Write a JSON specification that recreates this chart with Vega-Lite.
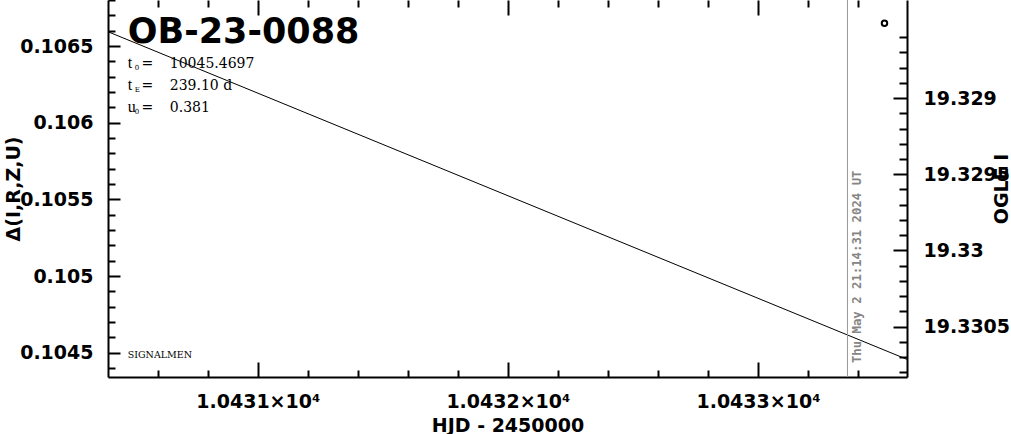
{
  "$schema": "https://vega.github.io/schema/vega-lite/v6.json",
  "width": 799,
  "height": 377,
  "autosize": "none",
  "padding": {"left": 108, "top": 0, "right": 104, "bottom": 57},
  "background": "white",
  "config": {
    "view": {"stroke": null},
    "axis": {
      "grid": false,
      "domainColor": "black",
      "domainWidth": 2,
      "tickColor": "black",
      "tickWidth": 2,
      "labelFont": "DejaVu Sans",
      "labelFontWeight": "bold",
      "labelFontSize": 19,
      "labelColor": "black",
      "labelOverlap": false,
      "labelFlush": false,
      "titleFont": "DejaVu Sans",
      "titleFontWeight": "bold",
      "titleFontSize": 19,
      "titleColor": "black"
    },
    "axisLeft": {
      "tickSize": {"condition": {"test": "abs(datum.value * 2000 - round(datum.value * 2000)) < 0.01", "value": -12}, "value": -7},
      "labelPadding": 27,
      "labelExpr": "abs(datum.value * 2000 - round(datum.value * 2000)) < 0.01 ? '' + round(datum.value * 10000) / 10000 : ''",
      "titlePadding": -4
    }
  },
  "datasets": {
    "model": [
      {"hjd": 10430.401, "delta": 0.106594},
      {"hjd": 10433.596, "delta": 0.104456}
    ],
    "now": [
      {"hjd": 10433.358, "label": "Thu May  2 21:14:31 2024 UT"}
    ],
    "ogle": [
      {"hjd": 10433.506, "mag": 19.32851}
    ],
    "event": [
      {"name": "OB-23-0088"}
    ],
    "note": [
      {"note": "SIGNALMEN"}
    ],
    "fit": [
      {"sym": ["t", "t", "u"], "sub": ["0", "E", "0"], "eq": ["=", "=", "="], "val": ["10045.4697", "239.10 d", "0.381"]}
    ]
  },
  "layer": [
    {
      "layer": [
        {
          "data": {"name": "model"},
          "mark": {"type": "line", "color": "black", "strokeWidth": 1, "clip": true},
          "encoding": {
            "x": {
              "field": "hjd",
              "type": "quantitative",
              "scale": {"domain": [10430.401, 10433.596], "nice": false, "zero": false},
              "axis": {
                "orient": "bottom",
                "values": [10430.6, 10430.8, 10431, 10431.2, 10431.4, 10431.6, 10431.8, 10432, 10432.2, 10432.4, 10432.6, 10432.8, 10433, 10433.2, 10433.4],
                "tickSize": {"condition": {"test": "abs(datum.value - round(datum.value)) < 0.01", "value": -15}, "value": -7},
                "labelPadding": 30,
                "labelExpr": "abs(datum.value - round(datum.value)) < 0.01 ? format(datum.value / 10000, '.4f') + '×10⁴' : ''",
                "title": "HJD - 2450000",
                "titlePadding": -3
              }
            },
            "y": {
              "field": "delta",
              "type": "quantitative",
              "scale": {"domain": [0.104341, 0.106801], "nice": false, "zero": false},
              "axis": {"orient": "left", "title": "Δ(I,R,Z,U)", "values": [0.1044, 0.1045, 0.1046, 0.1047, 0.1048, 0.1049, 0.105, 0.1051, 0.1052, 0.1053, 0.1054, 0.1055, 0.1056, 0.1057, 0.1058, 0.1059, 0.106, 0.1061, 0.1062, 0.1063, 0.1064, 0.1065, 0.1066, 0.1067, 0.1068]}
            }
          }
        },
        {
          "data": {"name": "now"},
          "mark": {"type": "rule", "color": "#999999", "strokeWidth": 1},
          "encoding": {"x": {"field": "hjd", "type": "quantitative"}}
        },
        {
          "data": {"name": "now"},
          "mark": {"type": "text", "angle": 270, "align": "left", "baseline": "alphabetic", "dy": 13.5, "font": "DejaVu Sans Mono", "fontWeight": "bold", "fontSize": 12.3, "color": "#858585"},
          "encoding": {
            "text": {"field": "label", "type": "nominal"},
            "x": {"field": "hjd", "type": "quantitative"},
            "y": {"datum": 0.104432, "type": "quantitative", "axis": {"orient": "left", "title": "Δ(I,R,Z,U)", "values": [0.1044, 0.1045, 0.1046, 0.1047, 0.1048, 0.1049, 0.105, 0.1051, 0.1052, 0.1053, 0.1054, 0.1055, 0.1056, 0.1057, 0.1058, 0.1059, 0.106, 0.1061, 0.1062, 0.1063, 0.1064, 0.1065, 0.1066, 0.1067, 0.1068]}}
          }
        },
        {
          "data": {"name": "event"},
          "mark": {"type": "text", "align": "left", "baseline": "alphabetic", "font": "DejaVu Sans", "fontWeight": "bold", "fontSize": 35, "color": "black"},
          "encoding": {
            "text": {"field": "name", "type": "nominal"},
            "x": {"datum": 10430.48, "type": "quantitative"},
            "y": {"datum": 0.106518, "type": "quantitative", "axis": {"orient": "left", "title": "Δ(I,R,Z,U)", "values": [0.1044, 0.1045, 0.1046, 0.1047, 0.1048, 0.1049, 0.105, 0.1051, 0.1052, 0.1053, 0.1054, 0.1055, 0.1056, 0.1057, 0.1058, 0.1059, 0.106, 0.1061, 0.1062, 0.1063, 0.1064, 0.1065, 0.1066, 0.1067, 0.1068]}}
          }
        },
        {
          "data": {"name": "note"},
          "mark": {"type": "text", "align": "left", "baseline": "alphabetic", "font": "DejaVu Serif", "fontSize": 9.5, "color": "black"},
          "encoding": {
            "text": {"field": "note", "type": "nominal"},
            "x": {"datum": 10430.48, "type": "quantitative"},
            "y": {"datum": 0.104463, "type": "quantitative", "axis": {"orient": "left", "title": "Δ(I,R,Z,U)", "values": [0.1044, 0.1045, 0.1046, 0.1047, 0.1048, 0.1049, 0.105, 0.1051, 0.1052, 0.1053, 0.1054, 0.1055, 0.1056, 0.1057, 0.1058, 0.1059, 0.106, 0.1061, 0.1062, 0.1063, 0.1064, 0.1065, 0.1066, 0.1067, 0.1068]}}
          }
        },
        {
          "data": {"name": "fit"},
          "mark": {"type": "text", "align": "left", "baseline": "alphabetic", "font": "Liberation Serif", "fontSize": 16, "lineHeight": 22, "color": "black"},
          "encoding": {
            "text": {"field": "sym", "type": "nominal"},
            "x": {"datum": 10430.48, "type": "quantitative"},
            "y": {"datum": 0.106357, "type": "quantitative", "axis": {"orient": "left", "title": "Δ(I,R,Z,U)", "values": [0.1044, 0.1045, 0.1046, 0.1047, 0.1048, 0.1049, 0.105, 0.1051, 0.1052, 0.1053, 0.1054, 0.1055, 0.1056, 0.1057, 0.1058, 0.1059, 0.106, 0.1061, 0.1062, 0.1063, 0.1064, 0.1065, 0.1066, 0.1067, 0.1068]}}
          }
        },
        {
          "data": {"name": "fit"},
          "mark": {"type": "text", "align": "left", "baseline": "alphabetic", "dy": 2, "font": "DejaVu Serif", "fontSize": 7, "lineHeight": 22, "color": "black"},
          "encoding": {
            "text": {"field": "sub", "type": "nominal"},
            "x": {"datum": 10430.508, "type": "quantitative"},
            "y": {"datum": 0.106357, "type": "quantitative", "axis": {"orient": "left", "title": "Δ(I,R,Z,U)", "values": [0.1044, 0.1045, 0.1046, 0.1047, 0.1048, 0.1049, 0.105, 0.1051, 0.1052, 0.1053, 0.1054, 0.1055, 0.1056, 0.1057, 0.1058, 0.1059, 0.106, 0.1061, 0.1062, 0.1063, 0.1064, 0.1065, 0.1066, 0.1067, 0.1068]}}
          }
        },
        {
          "data": {"name": "fit"},
          "mark": {"type": "text", "align": "left", "baseline": "alphabetic", "font": "DejaVu Serif", "fontSize": 14, "lineHeight": 22, "color": "black"},
          "encoding": {
            "text": {"field": "eq", "type": "nominal"},
            "x": {"datum": 10430.535, "type": "quantitative"},
            "y": {"datum": 0.106357, "type": "quantitative", "axis": {"orient": "left", "title": "Δ(I,R,Z,U)", "values": [0.1044, 0.1045, 0.1046, 0.1047, 0.1048, 0.1049, 0.105, 0.1051, 0.1052, 0.1053, 0.1054, 0.1055, 0.1056, 0.1057, 0.1058, 0.1059, 0.106, 0.1061, 0.1062, 0.1063, 0.1064, 0.1065, 0.1066, 0.1067, 0.1068]}}
          }
        },
        {
          "data": {"name": "fit"},
          "mark": {"type": "text", "align": "left", "baseline": "alphabetic", "font": "DejaVu Serif", "fontSize": 14, "lineHeight": 22, "color": "black"},
          "encoding": {
            "text": {"field": "val", "type": "nominal"},
            "x": {"datum": 10430.648, "type": "quantitative"},
            "y": {"datum": 0.106357, "type": "quantitative", "axis": {"orient": "left", "title": "Δ(I,R,Z,U)", "values": [0.1044, 0.1045, 0.1046, 0.1047, 0.1048, 0.1049, 0.105, 0.1051, 0.1052, 0.1053, 0.1054, 0.1055, 0.1056, 0.1057, 0.1058, 0.1059, 0.106, 0.1061, 0.1062, 0.1063, 0.1064, 0.1065, 0.1066, 0.1067, 0.1068]}}
          }
        }
      ]
    },
    {
      "data": {"name": "ogle"},
      "mark": {"type": "point", "shape": "circle", "filled": false, "stroke": "black", "strokeWidth": 2, "size": 30, "opacity": 1},
      "encoding": {
        "x": {
          "field": "hjd",
          "type": "quantitative",
          "scale": {"domain": [10430.401, 10433.596], "nice": false, "zero": false},
          "axis": {
            "orient": "top",
            "values": [10430.6, 10430.8, 10431, 10431.2, 10431.4, 10431.6, 10431.8, 10432, 10432.2, 10432.4, 10432.6, 10432.8, 10433, 10433.2, 10433.4],
            "tickSize": {"condition": {"test": "abs(datum.value - round(datum.value)) < 0.01", "value": -15}, "value": -7},
            "labels": false,
            "domain": false,
            "title": null
          }
        },
        "y": {
          "field": "mag",
          "type": "quantitative",
          "scale": {"domain": [19.328357, 19.33083], "nice": false, "zero": false, "reverse": true},
          "axis": {
            "orient": "right",
            "values": [19.3286, 19.3287, 19.3288, 19.3289, 19.329, 19.3291, 19.3292, 19.3293, 19.3294, 19.3295, 19.3296, 19.3297, 19.3298, 19.3299, 19.33, 19.3301, 19.3302, 19.3303, 19.3304, 19.3305, 19.3306, 19.3307, 19.3308],
            "tickSize": {"condition": {"test": "abs(datum.value * 2000 - round(datum.value * 2000)) < 0.01", "value": -14}, "value": -8},
            "labelPadding": 30,
            "labelExpr": "abs(datum.value * 2000 - round(datum.value * 2000)) < 0.01 ? '' + round(datum.value * 10000) / 10000 : ''",
            "title": "OGLE I",
            "titleAngle": 270,
            "titleBaseline": "top",
            "titlePadding": -17
          }
        }
      }
    }
  ],
  "resolve": {
    "scale": {"x": "independent", "y": "independent"},
    "axis": {"x": "independent", "y": "independent"}
  }
}
